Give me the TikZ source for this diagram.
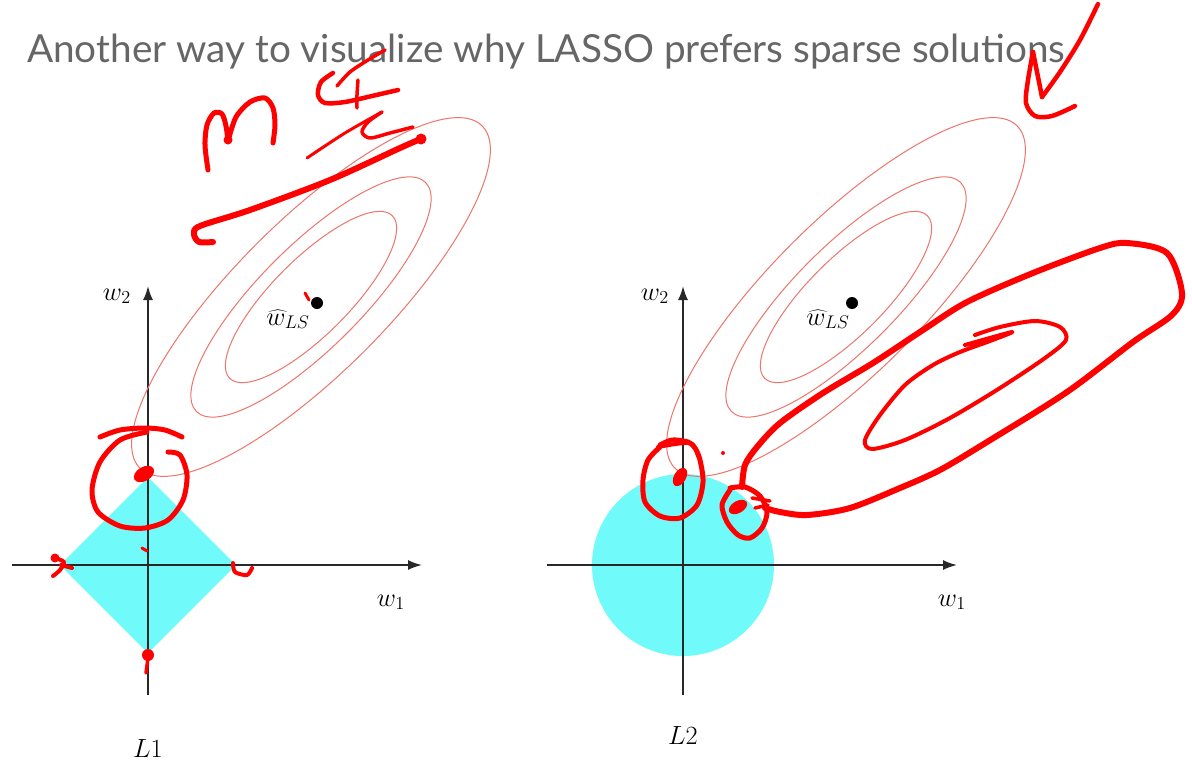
\documentclass[tikz,border=0pt]{standalone}
\usepackage[no-math]{fontspec}
\newfontfamily\titlefont{Lato}
\usetikzlibrary{arrows.meta}
\definecolor{cyanfill}{RGB}{112,250,250}
\definecolor{ellred}{RGB}{236,118,108}
\definecolor{titlegray}{RGB}{102,102,102}
\definecolor{inkred}{RGB}{255,0,0}
\definecolor{axisgray}{RGB}{40,40,40}
\tikzset{
  axisline/.style={draw=axisgray, line width=1.8pt, -{Latex[length=14pt,width=10pt]}},
  contour/.style={draw=ellred, line width=1pt},
  lbl/.style={anchor=base, inner sep=0pt, font=\fontsize{20.74}{21}\selectfont, scale=1.27},
  ink/.style={draw=inkred, line width=5pt, line cap=round, line join=round},
  inkthin/.style={draw=inkred, line width=3.5pt, line cap=round, line join=round},
  dotnode/.style={circle, fill=black, inner sep=0pt, minimum size=12pt},
}
\begin{document}
\begin{tikzpicture}[x=1pt,y=-1pt]
\useasboundingbox (0,0) rectangle (1192,763);
\fill[white] (0,0) rectangle (1192,763);

% title
\node[anchor=base west, inner sep=0pt, text=titlegray, font=\titlefont\fontsize{38.7}{39}\selectfont] (title) at (27,62) {Another way to visualize why LASSO prefers sparse solutions};

% ---------- left panel (L1) ----------
\fill[cyanfill] (148,477) -- (236,565) -- (148,653) -- (60,565) -- cycle;
\coordinate (L-xs) at (12,565); \coordinate (L-xe) at (422,565);
\coordinate (L-ys) at (148,695); \coordinate (L-ye) at (148,286);
\draw[axisline] (L-xs) -- (L-xe);
\draw[axisline] (L-ys) -- (L-ye);
\foreach \r/\s in {242/76,162/51,115/38}{
  \draw[contour, rotate around={45:(311,297)}] (311,297) ellipse [x radius=\r pt, y radius=\s pt];
}
\node[dotnode] (dotL) at (317,303) {};
\node[lbl] (w2L) at (117,300) {$w_2$};
\node[lbl] (w1L) at (391,606) {$w_1$};
\node[lbl] (wlsL) at (288,325) {$\widehat{w}_{LS}$};
\node[lbl] (nameL) at (148,757) {$L1$};

% ---------- right panel (L2) ----------
\fill[cyanfill] (683,565) circle [radius=91pt];
\coordinate (R-xs) at (547,565); \coordinate (R-xe) at (957,565);
\coordinate (R-ys) at (683,695); \coordinate (R-ye) at (683,286);
\draw[axisline] (R-xs) -- (R-xe);
\draw[axisline] (R-ys) -- (R-ye);
\foreach \r/\s in {242/76,162/51,115/38}{
  \draw[contour, rotate around={45:(846,297)}] (846,297) ellipse [x radius=\r pt, y radius=\s pt];
}
\node[dotnode] (dotR) at (852,303) {};
\node[lbl] (w2R) at (655,300) {$w_2$};
\node[lbl] (w1R) at (952,606) {$w_1$};
\node[lbl] (wlsR) at (828,325) {$\widehat{w}_{LS}$};
\node[lbl] (nameR) at (683,744) {$L2$};

% ---------- red handwriting: left ----------
% M
\draw[ink] plot[smooth] coordinates {(208,170) (205,145) (207,125) (214,113) (222,114) (226,126) (228,141)};
\draw[ink] plot[smooth] coordinates {(228,141) (236,117) (250,102) (265,98) (273,108) (275,125) (273,143)};
\fill[inkred] (228,140) circle [radius=4.5pt];
% S
\draw[ink, line width=4.5pt] plot[smooth] coordinates {(333,73) (321,82) (318,95) (325,103) (345,102) (372,96) (398,90)};
\draw[inkthin] plot[smooth] coordinates {(337,86) (350,72) (368,60) (385,50)};
\draw[inkthin] plot[smooth] coordinates {(358,80) (357,95) (357,108)};
\draw[inkthin, line width=3pt] plot[smooth] coordinates {(307,158) (345,133) (382,112)};
\draw[inkthin] plot[smooth] coordinates {(382,112) (368,122) (362,132) (370,138) (390,133) (413,127)};
% underline
\draw[ink, line width=6pt] plot[smooth] coordinates {(423,138) (400,148) (330,180) (250,210) (200,226) (194,234) (199,242) (213,242)};
\fill[inkred] (421,139) circle [radius=5.5pt];
% big circle at top vertex
\draw[ink] plot[smooth] coordinates {(100,437) (120,430) (145,428) (165,430) (182,437)};
\draw[ink] plot[smooth] coordinates {(147,432) (120,440) (100,462) (92,490) (98,512) (120,526) (145,528) (168,520) (183,500) (187,475) (180,455) (168,452)};
\fill[inkred, rotate around={30:(144,474)}] (144,474) ellipse [x radius=11pt, y radius=7pt];
% small marks
\draw[inkthin, line width=3pt] (142,548) -- (147,551);
\fill[inkred] (55,558) circle [radius=4.5pt];
\draw[inkthin, line width=4pt] plot[smooth] coordinates {(55,558) (64,562) (60,570) (53,576)};
\draw[inkthin, line width=4pt] (61,565) -- (72,568);
\draw[inkthin, line width=4pt] plot[smooth] coordinates {(233,563) (235,572) (247,575) (252,568)};
\fill[inkred] (148,655) circle [radius=6pt];
\draw[inkthin, line width=3.5pt] (148,658) -- (146,673);
\draw[inkthin, line width=3pt] (305,293) -- (309,300);

% ---------- red handwriting: right ----------
% check mark
\draw[ink, line width=4.5pt] plot[smooth] coordinates {(1098,4) (1080,40) (1060,72) (1042,97)};
\draw[ink, line width=4.5pt] (1042,97) -- (1033,52);
\draw[ink, line width=4.5pt] plot[smooth] coordinates {(1033,52) (1028,80) (1026,103) (1035,116) (1052,116) (1075,106)};
% circle A
\draw[ink] plot[smooth] coordinates {(660,447) (648,460) (643,480) (645,502) (660,516) (680,518) (697,505) (703,482) (700,460) (695,448) (688,442) (672,440) (660,445)};
\draw[ink, line width=4pt] plot[smooth] coordinates {(658,447) (690,443) (698,456)};
\fill[inkred, rotate around={60:(680,477)}] (680,477) ellipse [x radius=10pt, y radius=6pt];
\fill[inkred] (723,453) circle [radius=2pt];
% circle B
\draw[ink] plot[smooth] coordinates {(730,490) (722,505) (727,522) (738,535) (750,538) (762,528) (767,512) (760,496) (745,487) (730,488)};
\fill[inkred, rotate around={30:(738,507)}] (738,507) ellipse [x radius=10pt, y radius=6pt];
\draw[inkthin] (752,498) -- (770,501);
\draw[inkthin] (755,508) -- (768,505);
% big loop
\draw[ink, line width=6pt] plot[smooth] coordinates {(742,487) (745,465) (757,447) (780,423) (823,393) (873,363) (923,330) (967,302) (1033,273) (1100,248) (1127,243) (1167,253) (1182,293) (1172,315) (1133,342) (1067,392) (987,442) (940,470) (900,488) (850,508) (807,515) (780,512) (765,508)};
% inner loop
\draw[ink, line width=4pt] plot[smooth] coordinates {(965,345) (1012,332) (990,341) (960,352) (933,365) (905,385) (880,415) (865,440) (872,449) (905,440) (950,418) (1000,388) (1045,358) (1066,340) (1060,327) (1035,321) (1000,327) (975,335)};
\end{tikzpicture}
\end{document}
